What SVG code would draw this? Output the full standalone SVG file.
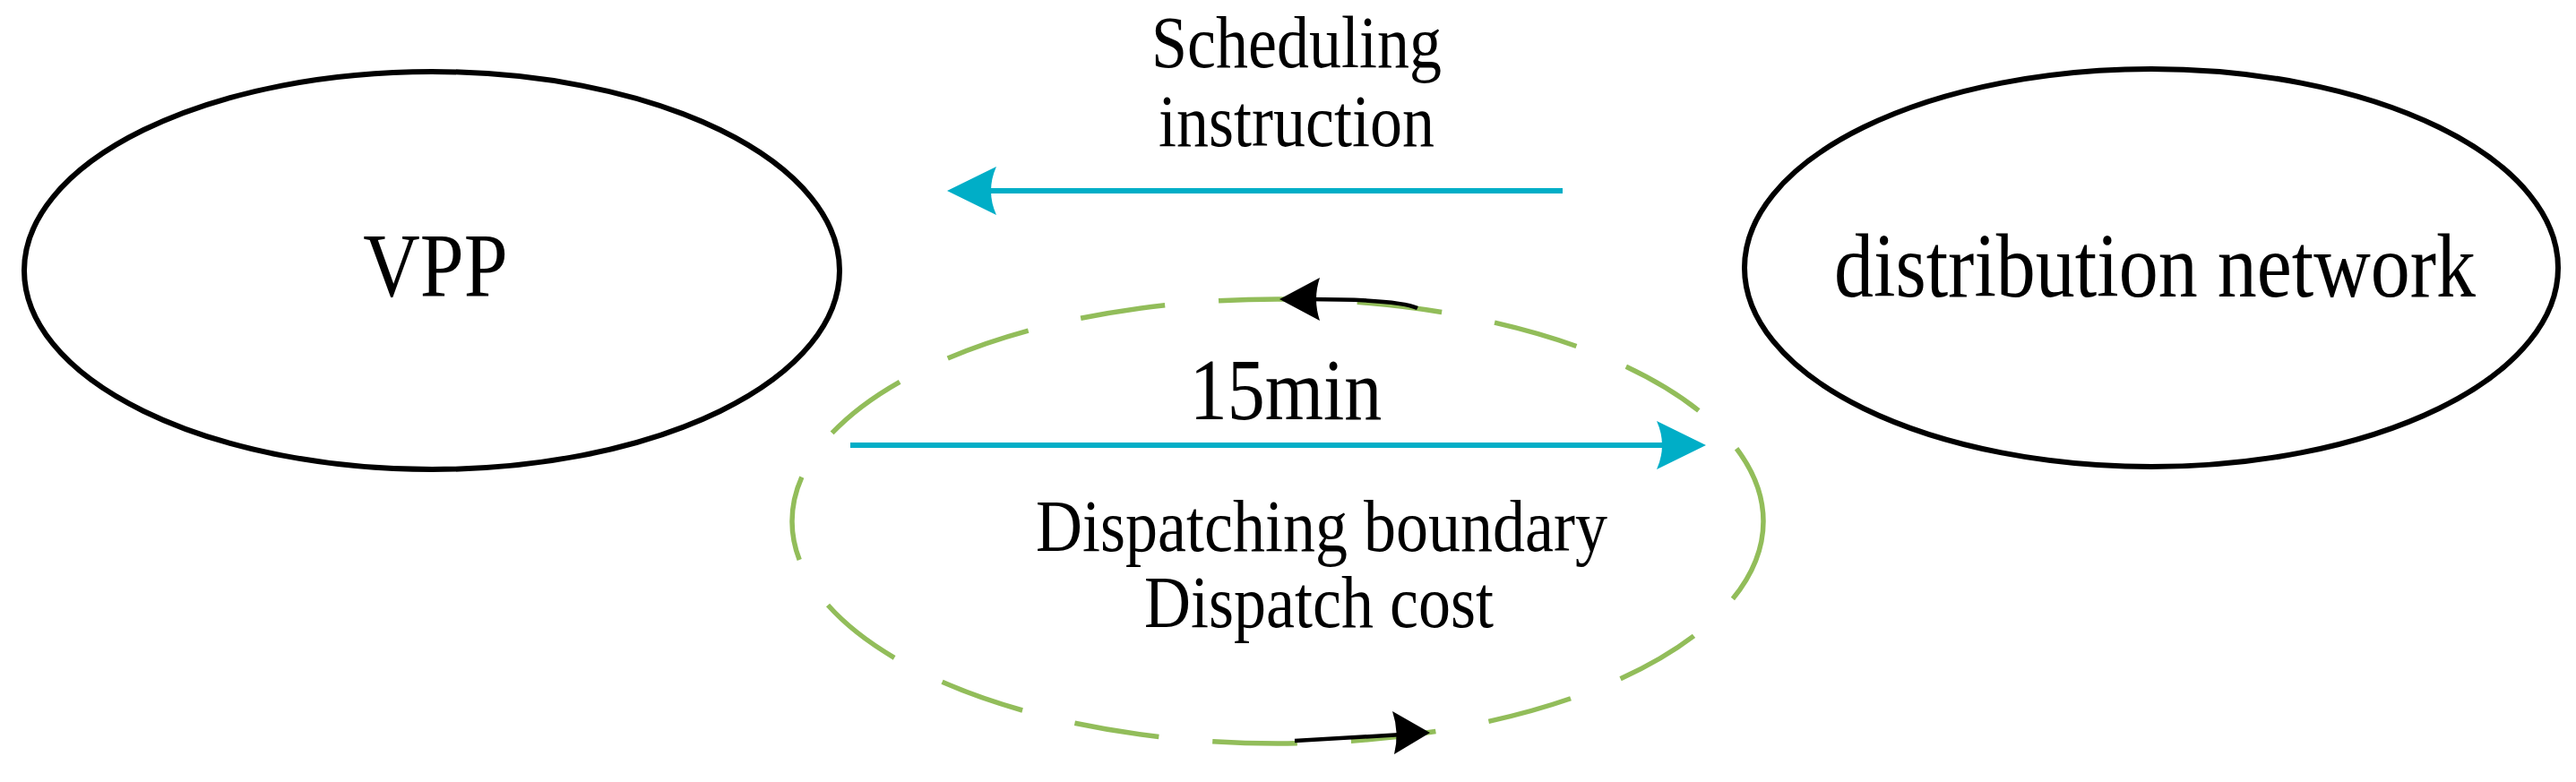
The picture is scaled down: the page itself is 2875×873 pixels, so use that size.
<svg xmlns="http://www.w3.org/2000/svg" width="2875" height="873" viewBox="0 0 2875 873">
<style>
.node{fill:none;stroke:#000;stroke-width:6}
.t{font-family:"Liberation Serif",serif;fill:#000;text-anchor:middle}
.blue{stroke:#00AEC7;stroke-width:6;fill:none}
</style>
<rect width="2875" height="873" fill="#fff"/>
<g id="vpp"><ellipse class="node" cx="482" cy="302" rx="455" ry="222"/><text class="t" x="486" y="331" font-size="88" transform="translate(0 331) scale(1 1.15) translate(0 -331)">VPP</text></g>
<g id="dn"><ellipse class="node" cx="2401" cy="299" rx="454" ry="222"/><text class="t" x="2405" y="331" font-size="88" transform="translate(0 331) scale(1 1.15) translate(0 -331)">distribution network</text></g>
<g id="boundary"><ellipse cx="1426" cy="582" rx="542" ry="248" fill="none" stroke="#92BD5A" stroke-width="5.5" stroke-dasharray="95 60"/>
<text class="t" x="1435" y="468" font-size="84" transform="translate(0 468) scale(1 1.15) translate(0 -468)">15min</text>
<text class="t" x="1475" y="615" font-size="72" transform="translate(0 615) scale(1 1.15) translate(0 -615)">Dispatching boundary</text>
<text class="t" x="1472" y="700" font-size="72" transform="translate(0 700) scale(1 1.15) translate(0 -700)">Dispatch cost</text></g>
<g id="connectors">
<text class="t" x="1447" y="75" font-size="72" transform="translate(0 75) scale(1 1.15) translate(0 -75)">Scheduling</text>
<text class="t" x="1447" y="163" font-size="72" transform="translate(0 163) scale(1 1.15) translate(0 -163)">instruction</text>
<line class="blue" x1="1744" y1="213" x2="1100" y2="213"/>
<path d="M1057 213 L1112 186 Q1100 213 1112 240 Z" fill="#00AEC7"/>
<line class="blue" x1="949" y1="497" x2="1860" y2="497"/>
<path d="M1904 497 L1849 470 Q1861 497 1849 524 Z" fill="#00AEC7"/>
<path d="M1582 344 Q1560 334 1460 334" fill="none" stroke="#000" stroke-width="4.5"/>
<path d="M1428 334 L1473 310 Q1465 334 1473 358 Z" fill="#000"/>
<path d="M1445 827 L1565 820" fill="none" stroke="#000" stroke-width="4.5"/>
<path d="M1596 818 L1554 794 Q1562 818 1556 842 Z" fill="#000"/>
</g>
</svg>
